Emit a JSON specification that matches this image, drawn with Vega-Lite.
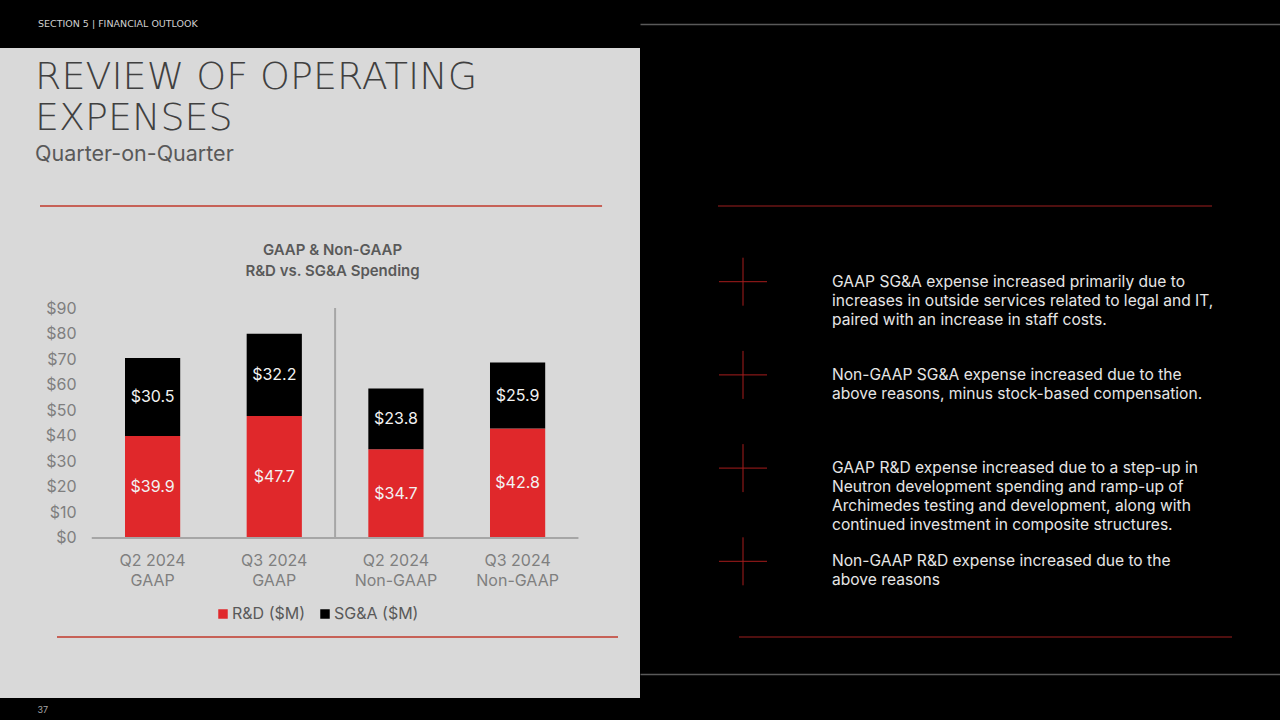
{
  "$schema": "https://vega.github.io/schema/vega-lite/v6.json",
  "background": "#000000",
  "padding": {"left": 0, "right": 0, "top": 18, "bottom": 7},
  "bounds": "flush",
  "spacing": 0,
  "title": {"text": "SECTION 5 | FINANCIAL OUTLOOK", "anchor": "start", "frame": "bounds", "dx": 38, "offset": -4, "font": "DejaVu Sans", "fontSize": 9.5, "fontWeight": "normal", "color": "#d0d0d0"},
  "datasets": {
    "spend": [
      {"quarter": "Q2 2024 GAAP", "category": "R&D ($M)", "value": 39.9},
      {"quarter": "Q2 2024 GAAP", "category": "SG&A ($M)", "value": 30.5},
      {"quarter": "Q3 2024 GAAP", "category": "R&D ($M)", "value": 47.7},
      {"quarter": "Q3 2024 GAAP", "category": "SG&A ($M)", "value": 32.2},
      {"quarter": "Q2 2024 Non-GAAP", "category": "R&D ($M)", "value": 34.7},
      {"quarter": "Q2 2024 Non-GAAP", "category": "SG&A ($M)", "value": 23.8},
      {"quarter": "Q3 2024 Non-GAAP", "category": "R&D ($M)", "value": 42.8},
      {"quarter": "Q3 2024 Non-GAAP", "category": "SG&A ($M)", "value": 25.9}
    ],
    "notes": [
      {"item": 1, "note": "GAAP SG&A expense increased primarily due to\nincreases in outside services related to legal and IT,\npaired with an increase in staff costs."},
      {"item": 2, "note": "Non-GAAP SG&A expense increased due to the\nabove reasons, minus stock-based compensation."},
      {"item": 3, "note": "GAAP R&D expense increased due to a step-up in\nNeutron development spending and ramp-up of\nArchimedes testing and development, along with\ncontinued investment in composite structures."},
      {"item": 4, "note": "Non-GAAP R&D expense increased due to the\nabove reasons"}
    ],
    "guide": [{"part": "rule"}]
  },
  "hconcat": [
    {
      "width": 640,
      "height": 650,
      "view": {"fill": "#d9d9d9", "stroke": null},
      "title": {
        "text": ["REVIEW OF OPERATING", "EXPENSES"],
        "subtitle": "Quarter-on-Quarter",
        "anchor": "start", "frame": "bounds", "dx": 35, "offset": -117,
        "font": "DejaVu Sans", "fontSize": 38, "fontWeight": 200, "color": "#404040", "lineHeight": 40.5,
        "subtitleFont": "Inter", "subtitleFontSize": 21.5, "subtitleColor": "#595959", "subtitlePadding": 6
      },
      "layer": [
        {
          "data": {"name": "spend"},
          "mark": {"type": "bar"},
          "encoding": {
            "x": {
              "field": "quarter", "type": "nominal", "sort": null,
              "scale": {"type": "band", "domain": ["Q2 2024 GAAP", "Q3 2024 GAAP", "Q2 2024 Non-GAAP", "Q3 2024 Non-GAAP"], "paddingInner": 0.5463, "paddingOuter": 0.9033, "align": 0.5687, "round": false},
              "axis": {
                "orient": "bottom", "offset": -160, "domain": false, "ticks": false, "grid": false,
                "labelAngle": 0, "labelPadding": 14, "labelFontSize": 16, "labelColor": "#7f7f7f", "labelFont": "Inter", "labelLineHeight": 20,
                "labelExpr": "[slice(datum.label, 0, 7), slice(datum.label, 8)]",
                "title": "37", "titleX": 37, "titleY": 176, "titleAlign": "left", "titleBaseline": "bottom", "titleAngle": 0,
                "titleFontSize": 9, "titleFontWeight": "normal", "titleColor": "#a6a6a6", "titleFont": "Inter"
              }
            },
            "y": {
              "field": "value", "type": "quantitative", "stack": "zero",
              "scale": {"domain": [-62.61, 191.74], "nice": false, "zero": false},
              "axis": {
                "orient": "left", "offset": -80, "values": [0, 10, 20, 30, 40, 50, 60, 70, 80, 90],
                "labelExpr": "'$' + datum.value", "domain": false, "ticks": false, "grid": false,
                "labelPadding": 4, "labelFontSize": 16, "labelColor": "#7f7f7f", "labelFont": "Inter",
                "title": ["GAAP & Non-GAAP", "R&D vs. SG&A Spending"], "titleAngle": 0, "titleX": 252, "titleY": 206,
                "titleAlign": "center", "titleBaseline": "alphabetic", "titleLineHeight": 21, "titleFontSize": 15,
                "titleFontWeight": 600, "titleColor": "#595959", "titleFont": "Inter"
              }
            },
            "color": {
              "field": "category", "type": "nominal",
              "scale": {"domain": ["R&D ($M)", "SG&A ($M)"], "range": ["#e0282b", "#000000"]},
              "legend": {
                "orient": "none", "legendX": 215, "legendY": 558, "direction": "horizontal", "title": null,
                "symbolType": "square", "symbolSize": 90, "symbolStrokeWidth": 0,
                "labelFontSize": 16, "labelColor": "#595959", "labelFont": "Inter", "labelOffset": 1, "columnPadding": 11
              }
            },
            "order": {"field": "category", "sort": "ascending"}
          }
        },
        {
          "data": {"name": "spend"},
          "transform": [
            {"stack": "value", "groupby": ["quarter"], "sort": [{"field": "category", "order": "ascending"}], "as": ["v0", "v1"]},
            {"fold": ["v0", "v1"], "as": ["edge", "pos"]},
            {"aggregate": [{"op": "mean", "field": "pos", "as": "mid"}], "groupby": ["quarter", "category", "value"]}
          ],
          "mark": {"type": "text", "fontSize": 16, "font": "Inter", "color": "#f2f2f2", "baseline": "middle"},
          "encoding": {
            "x": {"field": "quarter", "type": "nominal", "scale": {"type": "band", "domain": ["Q2 2024 GAAP", "Q3 2024 GAAP", "Q2 2024 Non-GAAP", "Q3 2024 Non-GAAP"], "paddingInner": 0.5463, "paddingOuter": 0.9033, "align": 0.5687, "round": false}},
            "y": {"field": "mid", "type": "quantitative", "scale": {"domain": [-62.61, 191.74], "nice": false, "zero": false}},
            "text": {"field": "value", "type": "quantitative", "format": "$.1f"}
          }
        },
        {
          "data": {"name": "guide"},
          "mark": {"type": "rule", "color": "#c0392b", "strokeWidth": 1.5},
          "encoding": {
            "x": {"datum": "Q2 2024 GAAP", "type": "nominal", "bandPosition": -1.54, "scale": {"type": "band", "domain": ["Q2 2024 GAAP", "Q3 2024 GAAP", "Q2 2024 Non-GAAP", "Q3 2024 Non-GAAP"], "paddingInner": 0.5463, "paddingOuter": 0.9033, "align": 0.5687, "round": false}},
            "x2": {"datum": "Q3 2024 Non-GAAP", "bandPosition": 2.03},
            "y": {"datum": 129.9, "type": "quantitative", "scale": {"domain": [-62.61, 191.74], "nice": false, "zero": false}}
          }
        },
        {
          "data": {"name": "guide"},
          "mark": {"type": "rule", "color": "#c0392b", "strokeWidth": 1.5},
          "encoding": {
            "x": {"datum": "Q2 2024 GAAP", "type": "nominal", "bandPosition": -1.232, "scale": {"type": "band", "domain": ["Q2 2024 GAAP", "Q3 2024 GAAP", "Q2 2024 Non-GAAP", "Q3 2024 Non-GAAP"], "paddingInner": 0.5463, "paddingOuter": 0.9033, "align": 0.5687, "round": false}},
            "x2": {"datum": "Q3 2024 Non-GAAP", "bandPosition": 2.319},
            "y": {"datum": -38.7, "type": "quantitative", "scale": {"domain": [-62.61, 191.74], "nice": false, "zero": false}}
          }
        },
        {
          "data": {"name": "guide"},
          "mark": {"type": "rule", "color": "#a6a6a6", "strokeWidth": 2},
          "encoding": {
            "x": {"datum": "Q3 2024 GAAP", "type": "nominal", "bandPosition": 1.602, "scale": {"type": "band", "domain": ["Q2 2024 GAAP", "Q3 2024 GAAP", "Q2 2024 Non-GAAP", "Q3 2024 Non-GAAP"], "paddingInner": 0.5463, "paddingOuter": 0.9033, "align": 0.5687, "round": false}},
            "y": {"datum": 0, "type": "quantitative", "scale": {"domain": [-62.61, 191.74], "nice": false, "zero": false}},
            "y2": {"datum": 90}
          }
        },
        {
          "data": {"name": "guide"},
          "mark": {"type": "rule", "color": "#a6a6a6", "strokeWidth": 2},
          "encoding": {
            "x": {"datum": "Q2 2024 GAAP", "type": "nominal", "bandPosition": -0.602, "scale": {"type": "band", "domain": ["Q2 2024 GAAP", "Q3 2024 GAAP", "Q2 2024 Non-GAAP", "Q3 2024 Non-GAAP"], "paddingInner": 0.5463, "paddingOuter": 0.9033, "align": 0.5687, "round": false}},
            "x2": {"datum": "Q3 2024 Non-GAAP", "bandPosition": 1.602},
            "y": {"datum": 0, "type": "quantitative", "scale": {"domain": [-62.61, 191.74], "nice": false, "zero": false}}
          }
        }
      ]
    },
    {
      "width": 640,
      "height": 650,
      "resolve": {"axis": {"x": "independent"}},
      "layer": [
        {
          "data": {"name": "notes"},
          "mark": {"type": "point", "shape": "M-1,0L1,0M0,-1L0,1", "size": 2304, "filled": false, "color": "#a61c1c", "strokeWidth": 1, "opacity": 1},
          "encoding": {
            "x": {"datum": "icon", "type": "nominal", "scale": {"type": "band", "domain": ["icon", "text"], "paddingInner": 0.088, "paddingOuter": 1, "align": 0.0868, "round": false},
                  "axis": {"orient": "top", "offset": 24, "domainColor": "#595959", "domainWidth": 1.5, "labels": false, "ticks": false, "grid": false, "title": null}},
            "y": {"field": "item", "type": "quantitative", "scale": {"domain": [-1.5075, 5.4667], "reverse": true, "nice": false, "zero": false}, "axis": null}
          }
        },
        {
          "data": {"name": "notes"},
          "mark": {"type": "text", "align": "left", "baseline": "middle", "lineBreak": "\n", "fontSize": 15.6, "lineHeight": 19, "font": "Inter", "color": "#e6e6e6"},
          "encoding": {
            "x": {"datum": "text", "type": "nominal", "bandPosition": 0, "scale": {"type": "band", "domain": ["icon", "text"], "paddingInner": 0.088, "paddingOuter": 1, "align": 0.0868, "round": false},
                  "axis": {"orient": "bottom", "offset": -24, "domainColor": "#595959", "domainWidth": 1.5, "labels": false, "ticks": false, "grid": false, "title": null}},
            "y": {"field": "item", "type": "quantitative", "scale": {"domain": [-1.5075, 5.4667], "reverse": true, "nice": false, "zero": false}, "axis": null},
            "text": {"field": "note", "type": "nominal"}
          }
        },
        {
          "data": {"name": "guide"},
          "mark": {"type": "rule", "color": "#9e1f1f", "strokeWidth": 1.2},
          "encoding": {
            "x": {"datum": "icon", "type": "nominal", "bandPosition": 0.3324, "scale": {"type": "band", "domain": ["icon", "text"], "paddingInner": 0.088, "paddingOuter": 1, "align": 0.0868, "round": false}, "axis": null},
            "x2": {"datum": "icon", "bandPosition": 3.6434},
            "y": {"datum": 0.1878, "type": "quantitative", "scale": {"domain": [-1.5075, 5.4667], "reverse": true, "nice": false, "zero": false}, "axis": null}
          }
        },
        {
          "data": {"name": "guide"},
          "mark": {"type": "rule", "color": "#9e1f1f", "strokeWidth": 1.2},
          "encoding": {
            "x": {"datum": "icon", "type": "nominal", "bandPosition": 0.4732, "scale": {"type": "band", "domain": ["icon", "text"], "paddingInner": 0.088, "paddingOuter": 1, "align": 0.0868, "round": false}, "axis": null},
            "x2": {"datum": "icon", "bandPosition": 3.7775},
            "y": {"datum": 4.812, "type": "quantitative", "scale": {"domain": [-1.5075, 5.4667], "reverse": true, "nice": false, "zero": false}, "axis": null}
          }
        }
      ]
    }
  ],
  "config": {
    "view": {"stroke": null},
    "axis": {"labelFont": "Inter", "titleFont": "Inter"},
    "legend": {"labelFont": "Inter"},
    "text": {"font": "Inter"}
  }
}
